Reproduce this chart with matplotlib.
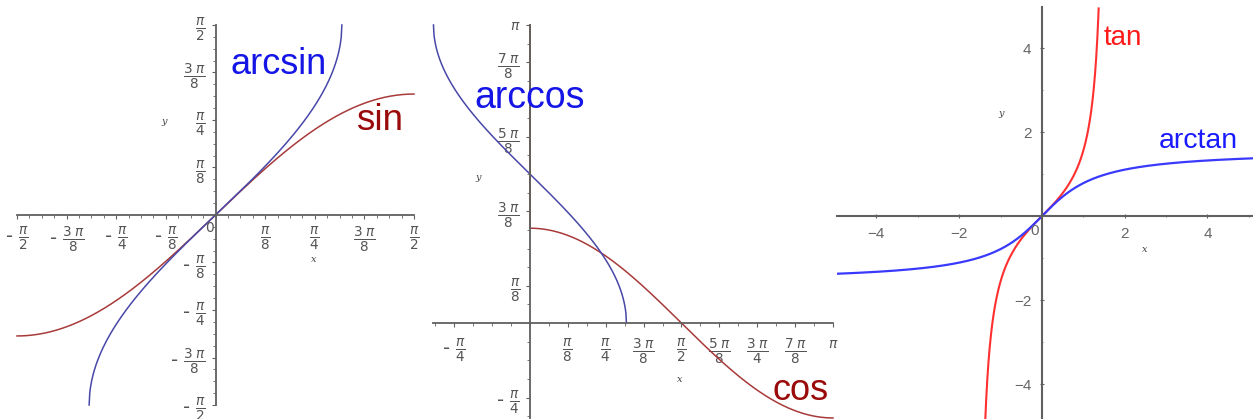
import numpy as np
import matplotlib
matplotlib.use("Agg")
import matplotlib.pyplot as plt
from matplotlib.ticker import FixedLocator, FixedFormatter, MultipleLocator

W, H = 1253, 419
PI = np.pi

# ---- domains of the plotted functions ----
sin_x = np.linspace(-PI / 2, PI / 2, 400)
arcsin_x = np.linspace(-1.0, 1.0, 400)
cos_x = np.linspace(0.0, PI, 400)
arccos_x = np.linspace(-1.0, 1.0, 400)
tan_x = np.linspace(-1.3735, 1.3713, 600)
arctan_x = np.linspace(-5.0, 5.1, 400)

# ---- tick positions and labels ----
p1_ticks = [-PI / 2, -3 * PI / 8, -PI / 4, -PI / 8, PI / 8, PI / 4, 3 * PI / 8, PI / 2]
p1_labels = [r"- $\frac{\pi}{2}$", r"- $\frac{3\;\pi}{8}$", r"- $\frac{\pi}{4}$",
             r"- $\frac{\pi}{8}$", r"$\frac{\pi}{8}$", r"$\frac{\pi}{4}$",
             r"$\frac{3\;\pi}{8}$", r"$\frac{\pi}{2}$"]

p2_xticks = [-PI / 4, PI / 8, PI / 4, 3 * PI / 8, PI / 2, 5 * PI / 8, 3 * PI / 4, 7 * PI / 8, PI]
p2_xlabels = [r"- $\frac{\pi}{4}$", r"$\frac{\pi}{8}$", r"$\frac{\pi}{4}$",
              r"$\frac{3\;\pi}{8}$", r"$\frac{\pi}{2}$", r"$\frac{5\;\pi}{8}$",
              r"$\frac{3\;\pi}{4}$", r"$\frac{7\;\pi}{8}$", r"$\pi$"]
p2_yticks = [-PI / 4, PI / 8, 3 * PI / 8, 5 * PI / 8, 7 * PI / 8, PI]
p2_ylabels = [r"- $\frac{\pi}{4}$", r"$\frac{\pi}{8}$", r"$\frac{3\;\pi}{8}$",
              r"$\frac{5\;\pi}{8}$", r"$\frac{7\;\pi}{8}$", r"$\pi$"]

p3_ticks = [-4, -2, 2, 4]
p3_labels = ["\u22124", "\u22122", "2", "4"]

AXIS = "#606060"
TXT = "#555555"

plt.rcParams["mathtext.fontset"] = "dejavusans"

fig = plt.figure(figsize=(W / 100, H / 100), dpi=100)


def box(x0, y0, x1, y1):
    return [x0 / W, 1 - y1 / H, (x1 - x0) / W, (y1 - y0) / H]


def style(ax, lw=1.3):
    for s in ("top", "right"):
        ax.spines[s].set_visible(False)
    for s in ("left", "bottom"):
        ax.spines[s].set_position(("data", 0))
        ax.spines[s].set_color(AXIS)
        ax.spines[s].set_linewidth(lw)
    ax.tick_params(which="both", direction="out", color=AXIS, labelcolor=TXT)
    ax.tick_params(which="major", length=3, width=0.8)
    ax.tick_params(which="minor", length=2, width=0.6)
    ax.patch.set_alpha(0)


def fig_text(x, y, s, **kw):
    fig.text(x / W, 1 - y / H, s, **kw)


FRAC = 14

# ---------------- panel 1: sin and arcsin ----------------
ax1 = fig.add_axes(box(17, 25, 414, 405))
ax1.set_xlim(-PI / 2, PI / 2)
ax1.set_ylim(-PI / 2, PI / 2)
style(ax1)
ax1.plot(sin_x, np.sin(sin_x), color="#a83a3a", lw=1.1, clip_on=False)
ax1.plot(arcsin_x, np.arcsin(arcsin_x), color="#4848a8", lw=1.1, clip_on=False)
ax1.xaxis.set_major_locator(FixedLocator(p1_ticks))
ax1.xaxis.set_major_formatter(FixedFormatter(p1_labels))
ax1.yaxis.set_major_locator(FixedLocator(p1_ticks))
ax1.yaxis.set_major_formatter(FixedFormatter(p1_labels))
ax1.xaxis.set_minor_locator(MultipleLocator(PI / 32))
ax1.yaxis.set_minor_locator(MultipleLocator(PI / 32))
ax1.tick_params(axis="x", labelsize=FRAC, pad=4)
ax1.tick_params(axis="y", labelsize=FRAC, pad=4)

# ---------------- panel 2: cos and arccos ----------------
ax2 = fig.add_axes(box(433, 25, 833, 419))
ax2.set_xlim(-1.005, PI)
ax2.set_ylim(-1.011, PI)
style(ax2)
ax2.plot([0, 0], [np.cos(0), PI], color="#a83a3a", lw=1.2, clip_on=False)
ax2.plot(cos_x, np.cos(cos_x), color="#a83a3a", lw=1.1, clip_on=False)
ax2.plot(arccos_x, np.arccos(arccos_x), color="#4848a8", lw=1.1, clip_on=False)
ax2.xaxis.set_major_locator(FixedLocator(p2_xticks))
ax2.xaxis.set_major_formatter(FixedFormatter(p2_xlabels))
ax2.yaxis.set_major_locator(FixedLocator(p2_yticks))
ax2.yaxis.set_major_formatter(FixedFormatter(p2_ylabels))
ax2.xaxis.set_minor_locator(MultipleLocator(PI / 16))
ax2.yaxis.set_minor_locator(MultipleLocator(PI / 16))
ax2.tick_params(axis="x", labelsize=FRAC, pad=7)
ax2.tick_params(axis="y", labelsize=FRAC, pad=4)
# the lone pi labels are set at numerator size
ax2.get_xticklabels()[-1].set_fontsize(10)
ax2.get_yticklabels()[-1].set_fontsize(10)

# ---------------- panel 3: tan and arctan ----------------
ax3 = fig.add_axes(box(837, 7, 1253, 419))
ax3.set_xlim(-4.95, 5.1)
ax3.set_ylim(-4.83, 4.98)
style(ax3, lw=1.5)
ax3.plot(tan_x, np.tan(tan_x), color="#ff3030", lw=1.5)
ax3.plot(arctan_x, np.arctan(arctan_x), color="#3a3aff", lw=1.6)
ax3.xaxis.set_major_locator(FixedLocator(p3_ticks))
ax3.xaxis.set_major_formatter(FixedFormatter(p3_labels))
ax3.yaxis.set_major_locator(FixedLocator(p3_ticks))
ax3.yaxis.set_major_formatter(FixedFormatter(p3_labels))
ax3.xaxis.set_minor_locator(MultipleLocator(1))
ax3.yaxis.set_minor_locator(MultipleLocator(1))
ax3.tick_params(which="both", direction="inout")
ax3.tick_params(axis="both", labelsize=11, pad=6, labelcolor="#666666")
for lab in ax3.get_xticklabels() + ax3.get_yticklabels():
    lab.set_family("Liberation Sans")

# ---------------- axis names and origin marks ----------------
small = dict(family="DejaVu Serif", style="italic", fontsize=7, color="#444444",
             ha="center", va="center")
fig_text(164, 121, "y", **small)
fig_text(314, 260, "x", **small)
fig_text(478, 177, "y", **small)
fig_text(680, 379, "x", **small)
fig_text(1001, 114, "y", **small)
fig_text(1145, 250, "x", **small)
fig_text(210, 228, "0", fontsize=10, color=TXT, ha="center", va="center")
fig_text(1035, 231, "0", fontsize=11, color="#666666", ha="center", va="center",
         family="Liberation Sans")

# ---------------- function names ----------------
big = dict(family="Liberation Sans", ha="left", va="baseline")
fig_text(230, 74, "arcsin", fontsize=26, color="#1515e6", **big)
fig_text(356, 130, "sin", fontsize=26.5, color="#9a0a0a", **big)
fig_text(474, 108, "arccos", fontsize=27, color="#1515e6", **big)
fig_text(772, 400, "cos", fontsize=26, color="#9a0a0a", **big)
fig_text(1104, 45, "tan", fontsize=20, color="#ff1a1a", **big)
fig_text(1159, 148, "arctan", fontsize=20.5, color="#1a1aff", **big)

fig.savefig("out.png", dpi=100)
